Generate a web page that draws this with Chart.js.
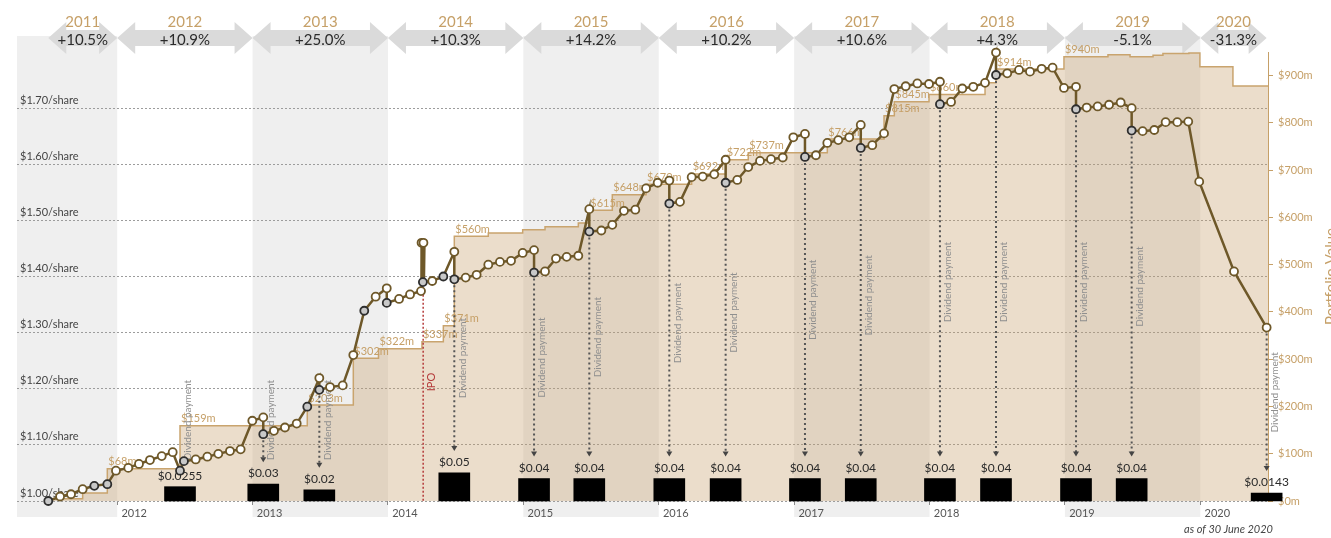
<!DOCTYPE html>
<html>
<head>
<meta charset="utf-8">
<script src="https://cdn.jsdelivr.net/npm/chart.js@4/dist/chart.umd.min.js"></script>
<style>
html,body{margin:0;padding:0;background:#ffffff;}
#wrap{width:1331px;height:538px;position:relative;}
</style>
</head>
<body>
<div id="wrap"><canvas id="c"></canvas></div>
<script>
// ---- Data ----
// NAV per share, dates as decimal years
const NAV_DATES = [2011.491,2011.578,2011.659,2011.745,2011.831,2011.927,2011.991,2012.082,2012.161,2012.242,
2012.329,2012.410,2012.464,2012.493,2012.580,2012.666,2012.747,2012.833,2012.912,2012.998,
2013.079,2013.079,2013.158,2013.239,2013.326,2013.404,2013.493,2013.493,2013.572,2013.666,
2013.744,2013.825,2013.909,2013.991,2013.991,2014.082,2014.163,2014.244,2014.248,2014.262,
2014.258,2014.327,2014.409,2014.490,2014.490,2014.574,2014.655,2014.741,2014.827,2014.909,
2014.995,2015.079,2015.079,2015.160,2015.241,2015.320,2015.406,2015.487,2015.487,2015.576,
2015.657,2015.743,2015.827,2015.906,2015.992,2016.078,2016.078,2016.157,2016.243,2016.325,
2016.410,2016.494,2016.494,2016.580,2016.661,2016.748,2016.829,2016.916,2016.994,2017.080,
2017.080,2017.161,2017.245,2017.326,2017.407,2017.492,2017.492,2017.577,2017.664,2017.740,
2017.824,2017.910,2017.996,2018.077,2018.077,2018.159,2018.242,2018.323,2018.410,2018.491,
2018.491,2018.574,2018.661,2018.742,2018.828,2018.909,2018.993,2019.082,2019.082,2019.161,
2019.242,2019.326,2019.412,2019.493,2019.493,2019.574,2019.660,2019.744,2019.830,2019.911,
2019.992,2020.249,2020.490];
const NAV_VALUES = [1.000,1.008,1.012,1.021,1.027,1.030,1.054,1.059,1.066,1.073,
1.080,1.087,1.054,1.071,1.074,1.079,1.084,1.089,1.092,1.143,
1.149,1.119,1.125,1.131,1.138,1.168,1.219,1.198,1.203,1.206,
1.260,1.339,1.364,1.379,1.353,1.360,1.368,1.374,1.460,1.460,
1.390,1.392,1.400,1.444,1.395,1.398,1.403,1.421,1.426,1.428,
1.442,1.447,1.407,1.409,1.432,1.435,1.437,1.520,1.480,1.482,
1.492,1.517,1.519,1.557,1.567,1.571,1.530,1.533,1.577,1.578,
1.582,1.608,1.567,1.572,1.595,1.606,1.609,1.612,1.648,1.654,
1.613,1.616,1.638,1.643,1.648,1.670,1.629,1.634,1.655,1.734,
1.739,1.744,1.743,1.747,1.707,1.711,1.735,1.738,1.745,1.799,
1.759,1.762,1.768,1.765,1.770,1.772,1.736,1.738,1.698,1.701,
1.703,1.706,1.710,1.700,1.660,1.659,1.661,1.675,1.675,1.676,
1.569,1.409,1.309];
// indices of the dark (highlighted) NAV points
const NAV_MARKED = [0,4,5,12,13,21,25,27,31,34,40,42,44,52,58,66,72,80,86,94,100,108,114];

// Dividends per share
const DIV_DATES = [2012.464,2013.079,2013.493,2014.490,2015.079,2015.487,2016.078,2016.494,
2017.080,2017.492,2018.077,2018.491,2019.082,2019.493,2020.490];
const DIV_AMOUNTS = [0.0255,0.03,0.02,0.05,0.04,0.04,0.04,0.04,0.04,0.04,0.04,0.04,0.04,0.04,0.0143];

// Portfolio value ($m), step starts
const PV_DATES = [2011.491,2011.745,2011.927,2012.464,2013.404,2013.744,2013.930,2014.251,2014.409,2014.490,
2014.741,2014.995,2015.160,2015.406,2015.487,2015.657,2015.906,2016.243,2016.494,2016.661,
2017.245,2017.664,2017.740,2017.996,2018.410,2018.491,2018.993,2019.318,2019.481,2019.651,
2019.724,2019.916,2019.997,2020.241,2020.500];
const PV_VALUES = [5,17,68,159,203,302,322,337,371,560,
567,574,580,588,615,648,670,692,722,737,
766,815,845,860,885,914,940,944,940,943,
947,948,919,878,878];
const PV_LABELED = [2,3,4,5,6,7,8,9,14,15,16,17,18,19,20,21,22,23,25,26];

// Calendar-year returns (top banner)
const YEARS = [2011,2012,2013,2014,2015,2016,2017,2018,2019,2020];
const YEAR_RETURNS = ['+10.5%','+10.9%','+25.0%','+10.3%','+14.2%','+10.2%','+10.6%','+4.3%','-5.1%','-31.3%'];

// Axis ticks
const X_TICKS = [2012,2013,2014,2015,2016,2017,2018,2019,2020];
const NAV_TICKS = [1.0,1.1,1.2,1.3,1.4,1.5,1.6,1.7];
const PV_TICKS = [0,100,200,300,400,500,600,700,800,900];

const IPO_DATE = 2014.26;
const AS_OF = 'as of 30 June 2020';

// ---- Styling ----
const FONT = 'Lato, "Open Sans", "DejaVu Sans", sans-serif';
const TAN = '#c6a068';
const LINE = '#6e5829';

function drawArrow(ctx, x0, x1, yc){
  const bh = 8, hh = 16;
  const L = Math.min(18, (x1 - x0) / 2);
  ctx.beginPath();
  ctx.moveTo(x0, yc);
  ctx.lineTo(x0 + L, yc - hh);
  ctx.lineTo(x0 + L, yc - bh);
  ctx.lineTo(x1 - L, yc - bh);
  ctx.lineTo(x1 - L, yc - hh);
  ctx.lineTo(x1, yc);
  ctx.lineTo(x1 - L, yc + hh);
  ctx.lineTo(x1 - L, yc + bh);
  ctx.lineTo(x0 + L, yc + bh);
  ctx.lineTo(x0 + L, yc + hh);
  ctx.closePath();
  ctx.fill();
}

function navAt(d){
  let v = null;
  NAV_DATES.forEach((nd, i) => {
    if (Math.abs(nd - d) < 0.002) v = (v === null) ? NAV_VALUES[i] : Math.min(v, NAV_VALUES[i]);
  });
  return v;
}

function drawAnnotations(chart){
  const {ctx} = chart;
  const x = chart.scales.x, y = chart.scales.y, y2 = chart.scales.y2;
  ctx.save();
  // portfolio value step labels
  ctx.font = '11px ' + FONT;
  ctx.fillStyle = TAN;
  ctx.textAlign = 'left';
  ctx.textBaseline = 'middle';
  PV_LABELED.forEach(i => {
    ctx.fillText('$' + PV_VALUES[i] + 'm', x.getPixelForValue(PV_DATES[i]) + 1, y2.getPixelForValue(PV_VALUES[i]) - 7);
  });

  // IPO marker
  let preIdx = 0;
  NAV_DATES.forEach((d, i) => { if (d < IPO_DATE - 0.01) preIdx = i; });
  const ipx = x.getPixelForValue(IPO_DATE);
  ctx.strokeStyle = '#b53b3b';
  ctx.lineWidth = 1.5;
  ctx.setLineDash([2, 2]);
  ctx.beginPath();
  ctx.moveTo(ipx, y.getPixelForValue(NAV_VALUES[preIdx]) + 4);
  ctx.lineTo(ipx, y.bottom);
  ctx.stroke();
  ctx.setLineDash([]);
  ctx.save();
  ctx.translate(ipx + 8, 382);
  ctx.rotate(-Math.PI / 2);
  ctx.fillStyle = '#b53b3b';
  ctx.font = '11px ' + FONT;
  ctx.textAlign = 'center';
  ctx.textBaseline = 'middle';
  ctx.fillText('IPO', 0, 0);
  ctx.restore();

  // dividends: labels, arrows, rotated text
  DIV_DATES.forEach((d, k) => {
    const px = x.getPixelForValue(d);
    const amt = DIV_AMOUNTS[k];
    const barTop = y.getPixelForValue(1 + amt);
    ctx.font = '12px ' + FONT;
    ctx.fillStyle = '#2a2a2a';
    ctx.textAlign = 'center';
    ctx.textBaseline = 'alphabetic';
    ctx.fillText('$' + amt, px, barTop - 7);

    const v = navAt(d);
    const y0 = y.getPixelForValue(v) + 6;
    const tip = barTop - 22;
    if (tip - y0 > 8) {
      ctx.strokeStyle = '#555555';
      ctx.lineWidth = 2;
      ctx.setLineDash([2, 3]);
      ctx.beginPath();
      ctx.moveTo(px, y0);
      ctx.lineTo(px, tip - 4);
      ctx.stroke();
      ctx.setLineDash([]);
      ctx.fillStyle = '#444444';
      ctx.beginPath();
      ctx.moveTo(px - 3, tip - 5);
      ctx.lineTo(px + 3, tip - 5);
      ctx.lineTo(px, tip);
      ctx.closePath();
      ctx.fill();
    }
    const cy = Math.min(420, Math.max(282, (y0 + tip) / 2 - 10));
    ctx.save();
    ctx.translate(px + 8, cy);
    ctx.rotate(-Math.PI / 2);
    ctx.font = '10px ' + FONT;
    ctx.fillStyle = '#8f8f8f';
    ctx.textAlign = 'center';
    ctx.textBaseline = 'middle';
    ctx.fillText('Dividend payment', 0, 0);
    ctx.restore();
  });
  ctx.restore();
}

const decor = {
  id: 'decor',
  beforeDraw(chart){
    const {ctx} = chart;
    const x = chart.scales.x;
    ctx.save();
    ctx.fillStyle = '#efefef';
    YEARS.forEach((yr, i) => {
      if (i % 2 === 0) {
        const x0 = Math.max(x.getPixelForValue(yr), x.left);
        const x1 = Math.min(x.getPixelForValue(yr + 1), x.right);
        if (x1 > x0) ctx.fillRect(x0, 36, x1 - x0, 517 - 36);
      }
    });
    ctx.restore();
  },
  beforeDatasetsDraw(chart){
    const {ctx} = chart;
    const x = chart.scales.x;
    const first = NAV_DATES[0], last = NAV_DATES[NAV_DATES.length - 1];
    ctx.save();
    YEARS.forEach((yr, i) => {
      const x0 = x.getPixelForValue(Math.max(yr, first));
      const x1 = x.getPixelForValue(Math.min(yr + 1, last));
      ctx.fillStyle = '#dadada';
      drawArrow(ctx, x0, x1, 38);
      const cx = (x0 + x1) / 2;
      ctx.textAlign = 'center';
      ctx.textBaseline = 'middle';
      ctx.font = '15px ' + FONT;
      ctx.fillStyle = TAN;
      ctx.fillText(String(yr), cx, 22);
      ctx.fillStyle = '#2b2b2b';
      ctx.fillText(YEAR_RETURNS[i], cx, 40);
    });
    ctx.restore();
  },
  afterDatasetDraw(chart, args){
    if (args.index === 1) drawAnnotations(chart);
  },
  afterDraw(chart){
    const {ctx} = chart;
    ctx.save();
    // right axis title
    ctx.save();
    ctx.translate(chart.width, (chart.chartArea.top + chart.chartArea.bottom) / 2);
    ctx.rotate(-Math.PI / 2);
    ctx.font = '15px ' + FONT;
    ctx.fillStyle = TAN;
    ctx.textAlign = 'center';
    ctx.textBaseline = 'middle';
    ctx.fillText('Portfolio Value', 0, 0);
    ctx.restore();
    // as-of note
    ctx.font = 'italic 11px ' + FONT;
    ctx.fillStyle = '#444444';
    ctx.textAlign = 'right';
    ctx.textBaseline = 'middle';
    ctx.fillText(AS_OF, 1273, 529);
    ctx.restore();
  }
};

const chart = new Chart(document.getElementById('c'), {
  type: 'line',
  data: {
    datasets: [
      {
        type: 'line',
        label: 'Portfolio value',
        yAxisID: 'y2',
        order: 3,
        data: PV_DATES.map((d, i) => ({x: d, y: PV_VALUES[i]})),
        stepped: 'before',
        fill: 'origin',
        backgroundColor: 'rgba(200,160,110,0.36)',
        borderColor: '#c9a46e',
        borderWidth: 1.5,
        pointRadius: 0
      },
      {
        type: 'bar',
        label: 'Dividend',
        yAxisID: 'y',
        order: 2,
        data: DIV_DATES.map((d, i) => ({x: d, y: [1, 1 + DIV_AMOUNTS[i]]})),
        backgroundColor: '#000000',
        borderWidth: 0,
        barThickness: 31,
        clip: false
      },
      {
        type: 'line',
        label: 'NAV per share',
        yAxisID: 'y',
        order: 1,
        data: NAV_DATES.map((d, i) => ({x: d, y: NAV_VALUES[i]})),
        borderColor: LINE,
        borderWidth: 2.5,
        tension: 0,
        clip: false,
        pointRadius: 4,
        pointHoverRadius: 4,
        pointBorderWidth: 1.8,
        pointBackgroundColor: c => NAV_MARKED.includes(c.dataIndex) ? '#c8c8c8' : '#ffffff',
        pointBorderColor: c => NAV_MARKED.includes(c.dataIndex) ? '#2e2e2e' : LINE,
        segment: {
          borderWidth: c => (c.p0DataIndex >= 38 && c.p0DataIndex <= 39) ? 4.5 : undefined
        }
      }
    ]
  },
  options: {
    responsive: true,
    maintainAspectRatio: false,
    animation: false,
    events: [],
    layout: {padding: {top: 52, left: 0, right: 0, bottom: 0}},
    plugins: {legend: {display: false}, tooltip: {enabled: false}},
    scales: {
      x: {
        type: 'linear',
        min: 2011.26,
        max: 2020.5,
        offset: false,
        afterBuildTicks: s => { s.ticks = X_TICKS.map(v => ({value: v})); },
        afterFit: s => { s.height = 37; },
        grid: {drawOnChartArea: false, drawTicks: true, tickLength: 4, color: '#8a8a8a', offset: false},
        border: {display: false},
        ticks: {
          font: {family: FONT, size: 11}, color: '#555555', padding: 2,
          labelOffset: 17, maxRotation: 0, autoSkip: false,
          callback: v => String(v)
        }
      },
      y: {
        type: 'linear',
        position: 'left',
        min: 1.0,
        max: 1.8,
        beginAtZero: false,
        afterBuildTicks: s => { s.ticks = NAV_TICKS.map(v => ({value: v})); },
        afterFit: s => { s.width = 17; },
        grid: {color: '#9c9c9c', lineWidth: 1, drawTicks: false},
        border: {display: false, dash: [2, 2]},
        ticks: {
          mirror: true, padding: 3, labelOffset: -8,
          font: {family: FONT, size: 11}, color: '#444444',
          callback: v => '$' + Number(v).toFixed(2) + '/share'
        }
      },
      y2: {
        type: 'linear',
        position: 'right',
        min: 0,
        max: 950,
        beginAtZero: true,
        afterBuildTicks: s => { s.ticks = PV_TICKS.map(v => ({value: v})); },
        afterFit: s => { s.width = 63; },
        grid: {drawOnChartArea: false, drawTicks: true, tickLength: 5, color: TAN},
        border: {display: true, color: TAN, width: 1},
        ticks: {
          padding: 5, font: {family: FONT, size: 11}, color: TAN,
          callback: v => '$' + v + 'm'
        }
      }
    }
  },
  plugins: [decor]
});
</script>
</body>
</html>
